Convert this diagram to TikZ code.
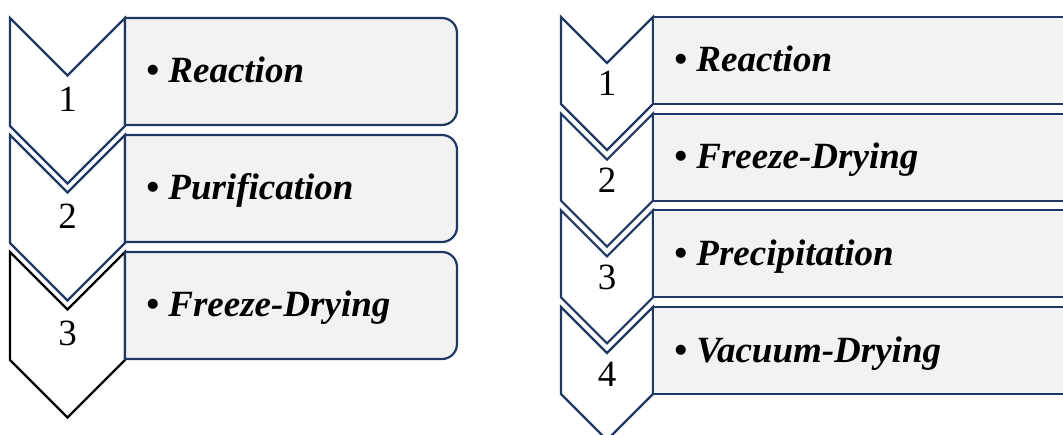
\documentclass[tikz,border=0pt]{standalone}
\usepackage{fontspec}
\setmainfont{Liberation Serif}
\usetikzlibrary{positioning}

\definecolor{navy}{RGB}{31,56,100}
\definecolor{boxgray}{RGB}{242,242,242}

\tikzset{
  chev/.style={draw=navy, line width=2.2pt, fill=white, line join=miter},
  stepbox/.style={draw=navy, line width=2.2pt, fill=boxgray},
  stepnum/.style={font=\fontsize{37}{40}\selectfont, inner sep=0pt, anchor=base},
  steptext/.style={font=\fontsize{37}{40}\selectfont\bfseries\itshape, inner sep=0pt, anchor=base west},
}

\begin{document}
\begin{tikzpicture}[x=1pt, y=-1pt]
    \clip (0,0) rectangle (1063,435);
    \fill[white] (0,0) rectangle (1063,435);

    % left process: three steps
    \foreach \i/\lbl/\col in {1/Reaction/navy, 2/Purification/navy, 3/Freeze-Drying/black} {
      \pgfmathsetmacro{\t}{18+117*(\i-1)}
      \draw[chev, draw=\col] (10,\t) -- (67.5,\t+57.5) -- (125,\t) -- (125,\t+108)
        -- (67.5,\t+165.5) -- (10,\t+108) -- cycle;
      \draw[stepbox] (125,\t) -- (442,\t) arc[start angle=-90, end angle=0, radius=15]
        -- (457,\t+92) arc[start angle=0, end angle=90, radius=15] -- (125,\t+107) -- cycle;
      \node[stepnum] (lnum\i) at (67.5,\t+94) {\i};
      \node[steptext] (ltext\i) at (146,\t+65) {\textbullet\ \lbl};
    }

    % right process: four steps
    \foreach \i/\lbl in {1/Reaction, 2/Freeze-Drying, 3/Precipitation, 4/Vacuum-Drying} {
      \pgfmathsetmacro{\t}{17+96.67*(\i-1)}
      \draw[chev] (561,\t) -- (607,\t+46) -- (653,\t) -- (653,\t+87)
        -- (607,\t+133) -- (561,\t+87) -- cycle;
      \draw[stepbox] (653,\t) rectangle (1080,\t+87);
      \node[stepnum] (rnum\i) at (607,\t+79) {\i};
      \node[steptext] (rtext\i) at (674,\t+55) {\textbullet\ \lbl};
    }
\end{tikzpicture}
\end{document}
